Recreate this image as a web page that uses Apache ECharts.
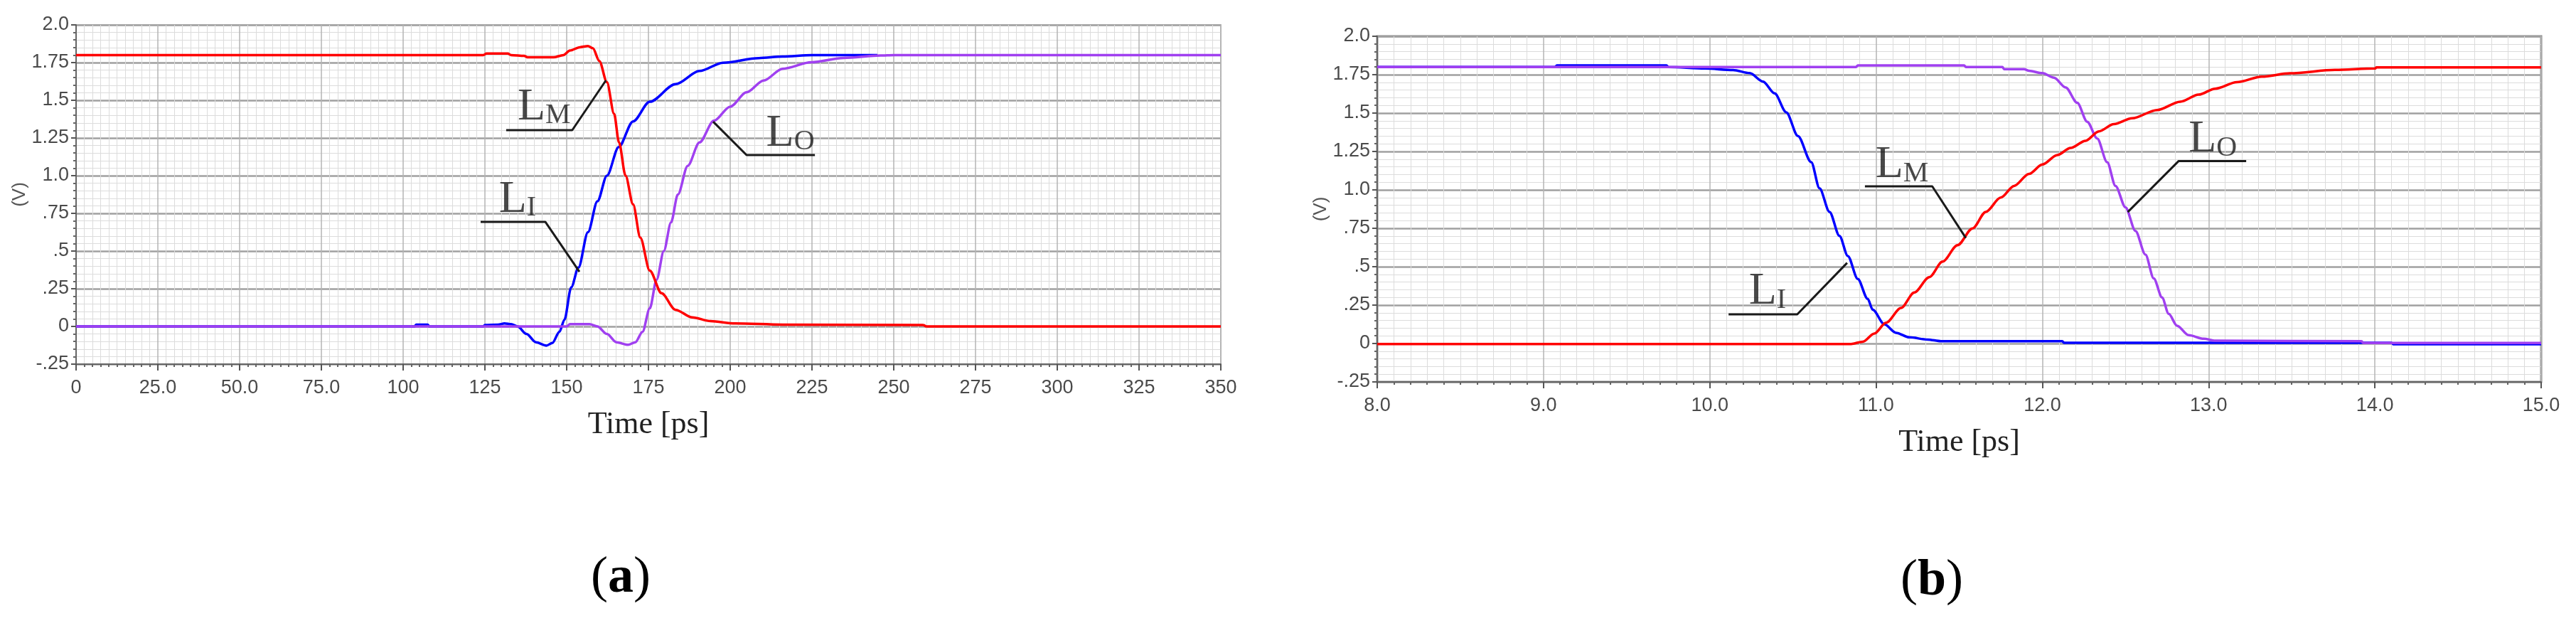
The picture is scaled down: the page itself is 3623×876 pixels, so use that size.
<!DOCTYPE html>
<html>
<head>
<meta charset="utf-8">
<title>LI / LM / LO transients</title>
<script src="https://cdn.jsdelivr.net/npm/echarts@6/dist/echarts.min.js"></script>
<style>
html, body {
  margin: 0;
  padding: 0;
  background: #fff;
}
#chart {
  width: 3623px;
  height: 876px;
}
</style>
</head>
<body>
<div id="chart"></div>
<script>
// tick labels
const leftXLabels = ['0', '25.0', '50.0', '75.0', '100', '125', '150', '175', '200', '225', '250', '275', '300', '325', '350']
const rightXLabels = ['8.0', '9.0', '10.0', '11.0', '12.0', '13.0', '14.0', '15.0']
const yLabels = ['-.25', '0', '.25', '.5', '.75', '1.0', '1.25', '1.5', '1.75', '2.0']

// (a) time in ps, volts
const leftLI = [[0, 0], [103.5, 0], [104, 0.012], [107.5, 0.012], [108, 0], [124.5, 0], [125, 0.01], [129, 0.012], [131, 0.02], [133, 0.015],
  [135, 0], [137.7, -0.05], [140.6, -0.105], [143.8, -0.127], [145.6, -0.11], [147.8, -0.035], [149.3, 0.044], [151.4, 0.26],
  [153.6, 0.39], [156.5, 0.625], [159.4, 0.83], [162.3, 1.0], [165.9, 1.19], [170.3, 1.36], [175.4, 1.49], [183.3, 1.607],
  [190.6, 1.694], [197.8, 1.749], [208.7, 1.78], [216, 1.79], [225, 1.8], [245, 1.8]]
const leftLM = [[0, 1.8], [124.5, 1.8], [125.5, 1.81], [132, 1.81], [133, 1.8], [137, 1.795], [138, 1.785], [146, 1.785], [149, 1.8],
  [151, 1.83], [154, 1.852], [156.5, 1.86], [158, 1.845], [160, 1.76], [162.3, 1.62], [164.5, 1.41], [166, 1.22], [168, 1.0],
  [170.3, 0.81], [172.5, 0.59], [175.4, 0.37], [179, 0.22], [183.3, 0.11], [188.4, 0.06], [194, 0.035], [201.5, 0.02],
  [216, 0.012], [259, 0.01], [260, 0], [350, 0]]
const leftLO = [[0, 0], [150, 0], [151, 0.015], [157, 0.015], [159.4, 0], [162.3, -0.05], [165.2, -0.105], [168.8, -0.122], [171, -0.105],
  [173.2, -0.035], [175.4, 0.12], [177.5, 0.31], [179.7, 0.5], [181.9, 0.69], [184, 0.875], [187, 1.065], [190.6, 1.22],
  [195, 1.364], [200, 1.458], [205, 1.553], [210.2, 1.631], [216, 1.709], [224.8, 1.752], [234.7, 1.781], [246, 1.797],
  [250, 1.8], [350, 1.8]]

// (b)
const rightLI = [[8, 1.8], [9.07, 1.8], [9.08, 1.81], [9.74, 1.81], [9.75, 1.8], [9.97, 1.79], [10.14, 1.78], [10.24, 1.76], [10.32, 1.705],
  [10.39, 1.628], [10.46, 1.505], [10.53, 1.351], [10.61, 1.181], [10.66, 1.01], [10.72, 0.857], [10.78, 0.7], [10.83, 0.57],
  [10.89, 0.42], [10.95, 0.29], [10.98, 0.22], [11.05, 0.125], [11.12, 0.07], [11.2, 0.04], [11.31, 0.026], [11.39, 0.015],
  [12.12, 0.015], [12.13, 0.005], [14.1, 0.005], [14.11, -0.005], [15, -0.005]]
const rightLM = [[8, -0.003], [10.85, -0.003], [10.92, 0.012], [10.99, 0.065], [11.06, 0.135], [11.15, 0.231], [11.23, 0.332],
  [11.32, 0.432], [11.4, 0.533], [11.49, 0.64], [11.58, 0.749], [11.66, 0.857], [11.75, 0.95], [11.83, 1.026], [11.92, 1.104],
  [12.0, 1.165], [12.09, 1.227], [12.17, 1.273], [12.26, 1.32], [12.34, 1.381], [12.43, 1.428], [12.54, 1.466], [12.69, 1.52],
  [12.83, 1.574], [12.94, 1.62], [13.04, 1.659], [13.17, 1.701], [13.32, 1.737], [13.49, 1.759], [13.76, 1.781], [14.0, 1.79],
  [14.01, 1.797], [15, 1.797]]
const rightLO = [[8, 1.8], [10.88, 1.8], [10.89, 1.81], [11.53, 1.81], [11.54, 1.8], [11.76, 1.8], [11.77, 1.786], [11.89, 1.786],
  [11.92, 1.775], [12.0, 1.76], [12.07, 1.73], [12.14, 1.667], [12.21, 1.567], [12.27, 1.443], [12.33, 1.335], [12.39, 1.18],
  [12.44, 1.026], [12.5, 0.887], [12.56, 0.733], [12.62, 0.579], [12.67, 0.424], [12.72, 0.3], [12.76, 0.193], [12.81, 0.116],
  [12.88, 0.054], [12.97, 0.031], [13.04, 0.018], [13.92, 0.015], [13.93, 0.003], [15, 0.003]]

// leader lines and curve names
const leftLeaders = [
  [[131.5, 1.302], [151.7, 1.302], [162, 1.632]],
  [[123.7, 0.693], [143.5, 0.693], [153.9, 0.363]],
  [[194.8, 1.358], [205, 1.137], [225.9, 1.137]]
]
const leftNames = [['M', 135, 1.453], ['I', 129.3, 0.84], ['O', 211, 1.279]]
const rightLeaders = [
  [[10.113, 0.19], [10.526, 0.19], [10.826, 0.525]],
  [[10.933, 1.023], [11.338, 1.023], [11.54, 0.687]],
  [[12.514, 0.856], [12.82, 1.188], [13.226, 1.188]]
]
const rightNames = [['I', 10.235, 0.337], ['M', 10.996, 1.161], ['O', 12.88, 1.326]]

const colors = { LI: '#0000ff', LM: '#ff0000', LO: '#a040f0' }
const tickFont = "'Liberation Sans', Arial, sans-serif"
const serif = "'Liberation Serif', 'Times New Roman', serif"

function xAxisFor (gridIndex, min, max, interval, labels) {
  return {
    type: 'value',
    gridIndex: gridIndex,
    min: min,
    max: max,
    interval: interval,
    name: 'Time [ps]',
    nameLocation: 'middle',
    nameGap: 63,
    nameTextStyle: { fontFamily: serif, fontSize: 44, color: '#222' },
    axisLine: { show: true, onZero: false, lineStyle: { color: '#666', width: 2 } },
    axisTick: { show: true, length: 9, lineStyle: { color: '#555', width: 2 } },
    minorTick: { show: true, splitNumber: 10, length: 4, lineStyle: { color: '#666', width: 2 } },
    axisLabel: {
      show: true,
      margin: 20,
      fontFamily: tickFont,
      fontSize: 27,
      color: '#4a4a4a',
      showMinLabel: true,
      showMaxLabel: true,
      formatter: v => labels[Math.round((v - min) / interval)]
    },
    splitLine: { show: true, lineStyle: { color: '#b4b4b4', width: 1.5 } },
    minorSplitLine: { show: true, lineStyle: { color: '#dcdcdc', width: 1 } }
  }
}

function yAxisFor (gridIndex) {
  return {
    type: 'value',
    gridIndex: gridIndex,
    min: -0.25,
    max: 2.0,
    interval: 0.25,
    name: '(V)',
    nameLocation: 'middle',
    nameGap: 62,
    nameRotate: 90,
    nameTextStyle: { fontFamily: tickFont, fontSize: 26, color: '#555' },
    axisLine: { show: true, onZero: false, lineStyle: { color: '#666', width: 2 } },
    axisTick: { show: true, length: 7, lineStyle: { color: '#555', width: 2 } },
    minorTick: { show: true, splitNumber: 5, length: 4, lineStyle: { color: '#666', width: 2 } },
    axisLabel: {
      show: true,
      margin: 10,
      fontFamily: tickFont,
      fontSize: 27,
      color: '#4a4a4a',
      showMinLabel: true,
      showMaxLabel: true,
      formatter: v => yLabels[Math.round((v + 0.25) / 0.25)]
    },
    splitLine: { show: true, lineStyle: { color: '#a0a0a0', width: 2.5 } },
    minorSplitLine: { show: true, lineStyle: { color: '#dcdcdc', width: 1 } }
  }
}

function curve (name, idx, data) {
  return {
    name: name,
    type: 'line',
    xAxisIndex: idx,
    yAxisIndex: idx,
    data: data,
    showSymbol: false,
    smooth: 0.3,
    smoothMonotone: 'x',
    lineStyle: { color: colors[name], width: 3.5 },
    z: 3
  }
}

function leaders (idx, list) {
  return list.map(pts => ({
    type: 'line',
    xAxisIndex: idx,
    yAxisIndex: idx,
    data: pts,
    showSymbol: false,
    silent: true,
    lineStyle: { color: '#1a1a1a', width: 3 },
    z: 4
  }))
}

function names (idx, list) {
  return {
    type: 'scatter',
    xAxisIndex: idx,
    yAxisIndex: idx,
    symbolSize: 0,
    silent: true,
    data: list.map(n => ({ name: n[0], value: [n[1], n[2]] })),
    label: {
      show: true,
      position: 'inside',
      align: 'left',
      verticalAlign: 'middle',
      formatter: p => '{big|L}{small|' + p.name + '}',
      rich: {
        big: { fontFamily: serif, fontSize: 64, lineHeight: 64, color: '#1a1a1a', verticalAlign: 'bottom' },
        small: { fontFamily: serif, fontSize: 40, lineHeight: 50, color: '#1a1a1a', verticalAlign: 'bottom' }
      }
    },
    z: 5
  }
}

function drawChart () {
  const chart = echarts.init(document.getElementById('chart'), null, { renderer: 'canvas' })
  const option = {
    animation: false,
    backgroundColor: '#fff',
    grid: [
      { left: 107, top: 35, width: 1610, height: 477, show: true, borderColor: '#b8b8b8', borderWidth: 2 },
      { left: 1937, top: 51, width: 1637, height: 486, show: true, borderColor: '#8a8a8a', borderWidth: 3 }
    ],
    xAxis: [
      xAxisFor(0, 0, 350, 25, leftXLabels),
      xAxisFor(1, 8, 15, 1, rightXLabels)
    ],
    yAxis: [yAxisFor(0), yAxisFor(1)],
    graphic: [
      {
        type: 'text',
        x: 873,
        y: 813,
        style: {
          text: '{p|(}{b|a}{p|)}',
          align: 'center',
          verticalAlign: 'middle',
          rich: {
            p: { fontFamily: serif, fontSize: 72, color: '#000' },
            b: { fontFamily: serif, fontSize: 72, fontWeight: 'bold', color: '#000' }
          }
        }
      },
      {
        type: 'text',
        x: 2717,
        y: 817,
        style: {
          text: '{p|(}{b|b}{p|)}',
          align: 'center',
          verticalAlign: 'middle',
          rich: {
            p: { fontFamily: serif, fontSize: 72, color: '#000' },
            b: { fontFamily: serif, fontSize: 72, fontWeight: 'bold', color: '#000' }
          }
        }
      }
    ],
    series: [
      curve('LI', 0, leftLI),
      curve('LO', 0, leftLO),
      curve('LM', 0, leftLM),
      curve('LI', 1, rightLI),
      curve('LO', 1, rightLO),
      curve('LM', 1, rightLM)
    ].concat(leaders(0, leftLeaders), leaders(1, rightLeaders), [names(0, leftNames), names(1, rightNames)])
  }
  chart.setOption(option)
}

drawChart()
</script>
</body>
</html>
